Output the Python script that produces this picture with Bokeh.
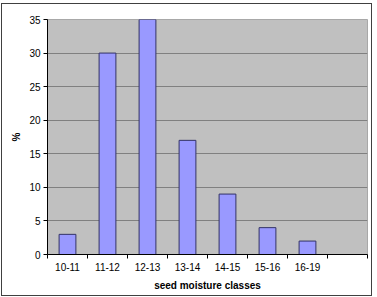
from bokeh.plotting import figure
from bokeh.models import Range1d, FixedTicker
from bokeh.embed import file_html
from bokeh.resources import INLINE

categories = ["10-11", "11-12", "12-13", "13-14", "14-15", "15-16", "16-19"]
values = [3, 30, 35, 17, 9, 4, 2]
n_slots = 8  # one empty category slot at the end
y_ticks = [0, 5, 10, 15, 20, 25, 30, 35]

FONT = "Liberation Sans"

p = figure(width=371, height=293, output_backend="svg", toolbar_location=None,
           x_range=Range1d(0, n_slots), y_range=Range1d(0, 35),
           min_border_left=45, min_border_right=6, min_border_top=15, min_border_bottom=43)
p.styles = {"border": "1px solid #404040", "margin-left": "1px", "margin-top": "3px"}

p.background_fill_color = "#C0C0C0"
p.border_fill_color = "white"
p.outline_line_color = "#A8A8A8"

xs = [i + 0.5 for i in range(len(categories))]
p.vbar(x=xs, top=values, width=0.42, bottom=0,
       fill_color="#9999FF", line_color="#333366", line_width=1)

p.xgrid.visible = False
p.ygrid.ticker = FixedTicker(ticks=y_ticks)
p.ygrid.grid_line_color = "#808080"
p.ygrid.grid_line_width = 1

# x axis
xa = p.xaxis[0]
xa.ticker = FixedTicker(ticks=xs, minor_ticks=list(range(n_slots + 1)))
xa.major_label_overrides = {x: c for x, c in zip(xs, categories)}
xa.major_tick_line_color = None
xa.major_tick_out = 4
xa.major_tick_in = 0
xa.minor_tick_out = 4
xa.minor_tick_in = 0
xa.minor_tick_line_color = "black"
xa.axis_line_color = "black"
xa.major_label_text_font = FONT
xa.major_label_text_font_size = "10px"
xa.major_label_text_color = "black"
xa.major_label_standoff = 4
xa.axis_label = "seed moisture classes"
xa.axis_label_text_font = FONT
xa.axis_label_text_font_size = "10px"
xa.axis_label_text_font_style = "bold"
xa.axis_label_text_color = "black"
xa.axis_label_standoff = 6

# y axis
ya = p.yaxis[0]
ya.ticker = FixedTicker(ticks=y_ticks)
ya.major_tick_out = 4
ya.major_tick_in = 0
ya.minor_tick_line_color = None
ya.axis_line_color = "black"
ya.major_tick_line_color = "black"
ya.major_label_text_font = FONT
ya.major_label_text_font_size = "10px"
ya.major_label_text_color = "black"
ya.major_label_standoff = 3
ya.axis_label = "%"
ya.axis_label_text_font = FONT
ya.axis_label_text_font_size = "10px"
ya.axis_label_text_font_style = "bold"
ya.axis_label_text_color = "black"
ya.axis_label_standoff = 4

open("out.html", "w").write(file_html(p, INLINE))
